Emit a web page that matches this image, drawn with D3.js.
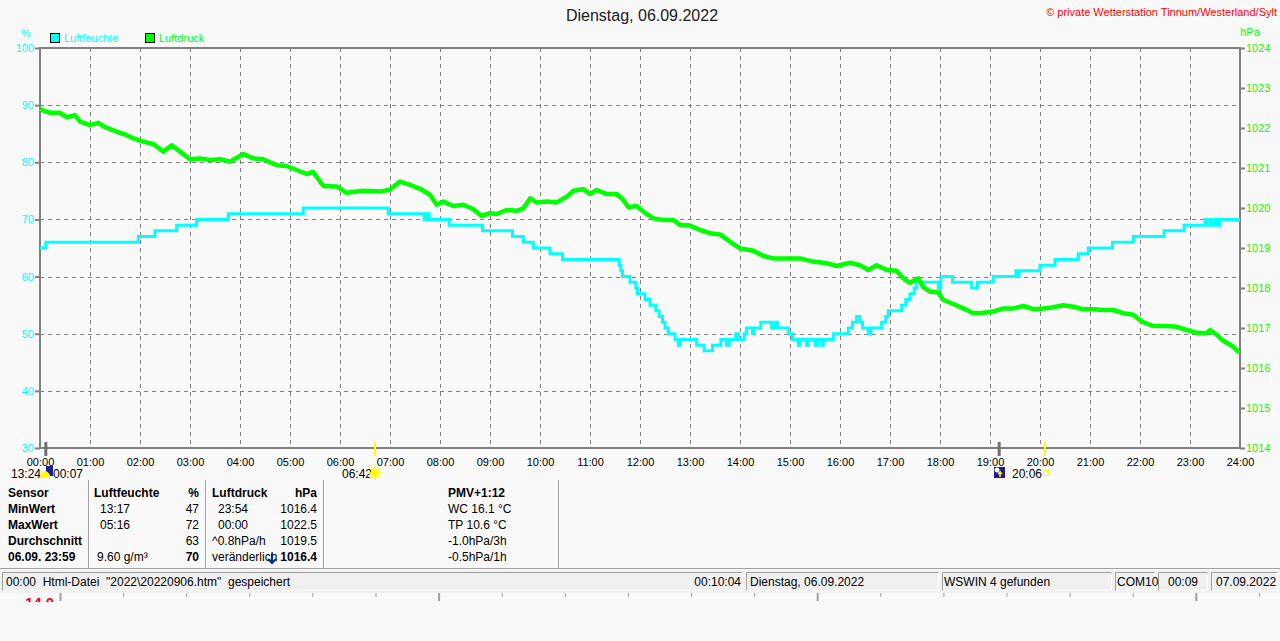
<!DOCTYPE html>
<html>
<head>
<meta charset="utf-8">
<script src="https://cdn.jsdelivr.net/npm/d3@7"></script>
<style>
  body { margin: 0; background: #f9f9f9; }
  svg { display: block; font-family: "Liberation Sans", Arial, sans-serif; }
</style>
</head>
<body>
<div id="chart"></div>
<script>
// Axis tick labels
const hourLabels = ["00:00","01:00","02:00","03:00","04:00","05:00","06:00","07:00","08:00","09:00","10:00","11:00","12:00",
  "13:00","14:00","15:00","16:00","17:00","18:00","19:00","20:00","21:00","22:00","23:00","24:00"];
const humidityTicks = [30, 40, 50, 60, 70, 80, 90, 100];
const pressureTicks = [1014, 1015, 1016, 1017, 1018, 1019, 1020, 1021, 1022, 1023, 1024];

// Luftfeuchte (%), step values
const humTimes = ["00:00","00:07","01:58","02:18","02:44","03:08","03:46","05:16","06:58","07:41","07:44","07:47","08:11","08:51",
  "09:27","09:40","09:52","10:12","10:27","11:35","11:37","11:39","11:48","11:55","11:57","12:06","12:12","12:19","12:23",
  "12:27","12:30","12:34","12:42","12:46","12:48","13:08","13:17","13:27","13:37","13:44","13:47","13:55","13:58","14:05",
  "14:08","14:15","14:17","14:25","14:38","14:42","14:45","14:58","15:03","15:10","15:12","15:20","15:22","15:30","15:33",
  "15:38","15:40","15:52","16:10","16:15","16:20","16:24","16:27","16:34","16:37","16:50","16:55","16:58","17:14","17:19",
  "17:24","17:29","17:32","17:58","18:01","18:15","18:38","18:45","19:04","19:31","19:33","19:35","20:00","20:18","20:46",
  "20:58","21:27","21:52","22:29","22:53","23:18","23:20","23:24","23:26","23:30","23:33","23:36","24:00"];
const humValues = [65,66,67,68,69,70,71,72,71,70,71,70,69,68,
  67,66,65,64,63,62,61,60,59,58,57,56,55,54,53,
  52,51,50,49,48,49,48,47,48,49,48,49,50,49,50,
  51,50,51,52,51,52,51,50,49,48,49,48,49,48,49,
  48,49,50,51,52,53,52,51,50,51,52,53,54,55,56,
  57,58,59,58,60,59,58,59,60,61,60,61,62,63,64,
  65,66,67,68,69,70,69,70,69,70,69,70,70];

// Luftdruck (hPa)
const presTimes = ["00:00","00:06","00:12","00:24","00:32","00:42","00:48","01:00","01:10","01:18","01:32","01:44","01:52",
  "02:04","02:16","02:28","02:38","02:48","03:00","03:12","03:24","03:36","03:48","04:04","04:16","04:28","04:44","04:56",
  "05:08","05:20","05:28","05:40","05:56","06:08","06:28","06:48","07:00","07:12","07:24","07:36","07:48","07:56","08:04",
  "08:16","08:28","08:40","08:50","09:00","09:08","09:20","09:32","09:40","09:48","09:56","10:08","10:20","10:32","10:40",
  "10:52","11:00","11:08","11:20","11:32","11:40","11:46","11:56","12:04","12:16","12:28","12:40","12:48","13:00","13:12",
  "13:24","13:36","13:48","14:00","14:16","14:28","14:40","14:56","15:12","15:28","15:44","15:56","16:12","16:24","16:34",
  "16:44","16:56","17:08","17:16","17:24","17:34","17:40","17:48","17:58","18:04","18:16","18:28","18:40","18:52","19:04",
  "19:16","19:28","19:40","19:52","20:04","20:16","20:28","20:40","20:52","21:04","21:16","21:28","21:40","21:52","22:02",
  "22:16","22:32","22:44","22:56","23:08","23:20","23:24","23:32","23:40","23:52","23:58","24:00"];
const presValues = [1022.47,1022.42,1022.38,1022.38,1022.27,1022.32,1022.16,1022.07,1022.13,1022.02,1021.91,1021.82,1021.74,
  1021.66,1021.60,1021.41,1021.57,1021.41,1021.22,1021.24,1021.20,1021.22,1021.16,1021.35,1021.24,1021.22,1021.07,1021.05,
  1020.95,1020.85,1020.90,1020.55,1020.54,1020.38,1020.43,1020.41,1020.46,1020.66,1020.58,1020.48,1020.33,1020.08,1020.16,
  1020.05,1020.08,1019.97,1019.80,1019.87,1019.85,1019.95,1019.93,1019.99,1020.24,1020.14,1020.16,1020.14,1020.28,1020.43,
  1020.47,1020.35,1020.45,1020.35,1020.35,1020.20,1020.02,1020.05,1019.91,1019.74,1019.70,1019.70,1019.58,1019.56,1019.45,
  1019.37,1019.34,1019.16,1018.99,1018.93,1018.80,1018.74,1018.74,1018.74,1018.66,1018.62,1018.55,1018.63,1018.57,1018.45,
  1018.57,1018.45,1018.43,1018.24,1018.13,1018.24,1018.02,1017.91,1017.89,1017.70,1017.60,1017.49,1017.37,1017.38,1017.41,
  1017.49,1017.49,1017.55,1017.47,1017.49,1017.52,1017.57,1017.53,1017.47,1017.47,1017.45,1017.45,1017.37,1017.33,1017.16,
  1017.05,1017.05,1017.03,1016.95,1016.88,1016.87,1016.95,1016.83,1016.68,1016.53,1016.41,1016.40];

// Sonne / Mond markers
const markerTimes = ["00:07", "06:42", "19:11", "20:06"];
const markerKinds = ["moon", "sun", "moon", "sun"];

// Info table
const tableCol0 = ["Sensor", "MinWert", "MaxWert", "Durchschnitt", "06.09. 23:59"];
const humCol = ["Luftfeuchte", "13:17", "05:16", "", "9.60 g/m³"];
const humVal = ["%", "47", "72", "63", "70"];
const presCol = ["Luftdruck", "23:54", "00:00", "^0.8hPa/h", "veränderlich"];
const presVal = ["hPa", "1016.4", "1022.5", "1019.5", "1016.4"];
const pmvCol = ["PMV+1:12", "WC 16.1 °C", "TP 10.6 °C", "-1.0hPa/3h", "-0.5hPa/1h"];

// Status bar
const statusTexts = ["00:00  Html-Datei  \"2022\\20220906.htm\"  gespeichert", "00:10:04", "Dienstag, 06.09.2022",
  "WSWIN 4 gefunden", "COM10", "00:09", "07.09.2022"];

const toHours = s => { const [h, m] = s.split(":").map(Number); return h + m / 60; };

const W = 1280, H = 641;
const plot = { left: 40, right: 1240, top: 48, bottom: 448 };
const cyan = "#00ffff", green = "#00ff00", gridGray = "#808080";

const svg = d3.select("#chart").append("svg")
  .attr("width", W).attr("height", H);

svg.append("rect").attr("width", W).attr("height", H).attr("fill", "#f9f9f9");

const x = d3.scaleLinear().domain([0, 24]).range([plot.left, plot.right]);
const yH = d3.scaleLinear().domain([30, 100]).range([plot.bottom, plot.top]);
const yP = d3.scaleLinear().domain([1014, 1024]).range([plot.bottom, plot.top]);

// Title and copyright
svg.append("text")
  .attr("x", 642).attr("y", 21)
  .attr("text-anchor", "middle")
  .style("font-size", "16px").attr("fill", "#202020")
  .text("Dienstag, 06.09.2022");

svg.append("text")
  .attr("x", 1277).attr("y", 16)
  .attr("text-anchor", "end")
  .style("font-size", "11px").attr("fill", "#ff0000")
  .text("© private Wetterstation Tinnum/Westerland/Sylt");

// Unit labels
svg.append("text").attr("x", 26).attr("y", 37).attr("text-anchor", "middle")
  .style("font-size", "11px").attr("fill", cyan).text("%");
svg.append("text").attr("x", 1250).attr("y", 36).attr("text-anchor", "middle")
  .style("font-size", "11px").attr("fill", green).text("hPa");

// Legend
const legendItems = [
  { label: "Luftfeuchte", color: cyan, x: 50 },
  { label: "Luftdruck", color: green, x: 145 }
];
legendItems.forEach(d => {
  svg.append("rect").attr("x", d.x + 0.5).attr("y", 33.5).attr("width", 9).attr("height", 9)
    .attr("fill", d.color).attr("stroke", "#000");
  svg.append("text").attr("x", d.x + 14).attr("y", 42)
    .style("font-size", "11px").attr("fill", d.color).text(d.label);
});

// Grid
const grid = svg.append("g")
  .attr("stroke", gridGray).attr("stroke-width", 1).attr("stroke-dasharray", "4,4");
grid.selectAll("line.v")
  .data(d3.range(1, 24))
  .join("line")
  .attr("x1", d => Math.round(x(d)) + 0.5).attr("x2", d => Math.round(x(d)) + 0.5)
  .attr("y1", plot.top).attr("y2", plot.bottom);
grid.selectAll("line.h")
  .data(humidityTicks.slice(1, -1))
  .join("line")
  .attr("x1", plot.left).attr("x2", plot.right)
  .attr("y1", d => Math.round(yH(d)) + 0.5).attr("y2", d => Math.round(yH(d)) + 0.5);

// Axes
const leftAxis = svg.append("g")
  .attr("transform", `translate(${plot.left},0)`)
  .call(d3.axisLeft(yH).tickValues(humidityTicks).tickSize(5).tickPadding(1));
leftAxis.select(".domain").remove();
leftAxis.selectAll("line").attr("stroke", gridGray).attr("stroke-width", 2);
leftAxis.selectAll("text").attr("fill", cyan).style("font-size", "11px")
  .style("font-family", "Liberation Sans, Arial, sans-serif");

const rightAxis = svg.append("g")
  .attr("transform", `translate(${plot.right},0)`)
  .call(d3.axisRight(yP).tickValues(pressureTicks).tickFormat(d3.format("d")).tickSize(5).tickPadding(1));
rightAxis.select(".domain").remove();
rightAxis.selectAll("line").attr("stroke", gridGray).attr("stroke-width", 2);
rightAxis.selectAll("text").attr("fill", green).style("font-size", "11px")
  .style("font-family", "Liberation Sans, Arial, sans-serif");

const bottomAxis = svg.append("g")
  .attr("transform", `translate(0,${plot.bottom})`)
  .call(d3.axisBottom(x).tickValues(d3.range(0, 25)).tickFormat(i => hourLabels[i]).tickSize(0).tickPadding(10));
bottomAxis.select(".domain").remove();
bottomAxis.selectAll("text").attr("fill", "#000").style("font-size", "11px")
  .style("font-family", "Liberation Sans, Arial, sans-serif");

// Frame
svg.append("rect")
  .attr("x", plot.left).attr("y", plot.top)
  .attr("width", plot.right - plot.left).attr("height", plot.bottom - plot.top)
  .attr("fill", "none").attr("stroke", gridGray).attr("stroke-width", 2);

// Data lines
const humData = humTimes.map((t, i) => ({ t: toHours(t), v: humValues[i] }));
const presData = presTimes.map((t, i) => ({ t: toHours(t), v: presValues[i] }));

svg.append("path")
  .datum(humData)
  .attr("fill", "none").attr("stroke", cyan).attr("stroke-width", 3)
  .attr("d", d3.line().x(d => x(d.t)).y(d => yH(d.v)).curve(d3.curveStepAfter));

svg.append("path")
  .datum(presData)
  .attr("fill", "none").attr("stroke", green).attr("stroke-width", 4.5)
  .attr("stroke-linejoin", "round")
  .attr("d", d3.line().x(d => x(d.t)).y(d => yP(d.v)));

// Sun / moon markers below the axis
markerTimes.forEach((t, i) => {
  svg.append("line")
    .attr("x1", x(toHours(t))).attr("x2", x(toHours(t)))
    .attr("y1", 442).attr("y2", 456)
    .attr("stroke", markerKinds[i] === "sun" ? "#ffff00" : "#707070")
    .attr("stroke-width", markerKinds[i] === "sun" ? 2 : 3);
});

const infoText = (tx, ty, s, anchor = "start") => svg.append("text")
  .attr("x", tx).attr("y", ty).attr("text-anchor", anchor)
  .style("font-size", "12px").style("white-space", "pre").attr("fill", "#000").text(s);

infoText(11, 478, "13:24");
infoText(53, 478, "00:07");
infoText(342, 478, "06:42");
infoText(1012, 478, "20:06");

// moon icon (left)
svg.append("rect").attr("x", 46).attr("y", 466).attr("width", 7).attr("height", 10).attr("fill", "#1c1c8c");
svg.append("path").attr("d", "M40,478 L40,475 Q45,467 50,475 L50,478 Z").attr("fill", "#ffff00");
// sun icon
const sunG = svg.append("g").attr("transform", "translate(375,473)");
sunG.selectAll("line").data(d3.range(8)).join("line")
  .attr("x1", 0).attr("y1", 0)
  .attr("x2", d => 7 * Math.cos(d * Math.PI / 4)).attr("y2", d => 7 * Math.sin(d * Math.PI / 4))
  .attr("stroke", "#ffff00").attr("stroke-width", 1.5);
sunG.append("circle").attr("r", 4).attr("fill", "#ffff00");
// moon icon (right)
svg.append("rect").attr("x", 994).attr("y", 467).attr("width", 11).attr("height", 11).attr("fill", "#1c1c8c");
svg.append("circle").attr("cx", 997).attr("cy", 470).attr("r", 2.5).attr("fill", "#ffffff");
svg.append("path").attr("d", "M1000,477 L1000,472 L998,474 M1000,472 L1002,474").attr("stroke", "#ffff00").attr("stroke-width", 1.5).attr("fill", "none");
svg.append("rect").attr("x", 1043.5).attr("y", 470.5).attr("width", 5).attr("height", 5)
  .attr("fill", "none").attr("stroke", "#ffff00");

// Info table
const rowsY = [497, 513, 529, 545, 561];
const sepX = [88, 205, 323, 558];
sepX.forEach(sx => {
  svg.append("line").attr("x1", sx + 0.5).attr("x2", sx + 0.5).attr("y1", 480).attr("y2", 568)
    .attr("stroke", "#a0a0a0");
  svg.append("line").attr("x1", sx + 1.5).attr("x2", sx + 1.5).attr("y1", 480).attr("y2", 568)
    .attr("stroke", "#ffffff");
});

tableCol0.forEach((s, i) => infoText(8, rowsY[i], s).style("font-weight", "bold"));
humCol.forEach((s, i) => infoText(i === 0 ? 94 : (i === 4 ? 97 : 100), rowsY[i], s).style("font-weight", i === 0 ? "bold" : "normal"));
humVal.forEach((s, i) => infoText(199, rowsY[i], s, "end").style("font-weight", (i === 0 || i === 4) ? "bold" : "normal"));
presCol.forEach((s, i) => infoText((i === 1 || i === 2) ? 218 : 212, rowsY[i], s).style("font-weight", i === 0 ? "bold" : "normal"));
presVal.forEach((s, i) => infoText(317, rowsY[i], s, "end").style("font-weight", (i === 0 || i === 4) ? "bold" : "normal"));
pmvCol.forEach((s, i) => infoText(448, rowsY[i], s).style("font-weight", i === 0 ? "bold" : "normal"));
// tendency arrow
svg.append("path").attr("d", "M272,553 L272,563 M268,559 L272,563 L276,559")
  .attr("stroke", "#003080").attr("stroke-width", 2).attr("fill", "none");

// Status bar
svg.append("rect").attr("x", 0).attr("y", 569).attr("width", W).attr("height", 24).attr("fill", "#f0f0f0");
svg.append("line").attr("x1", 0).attr("x2", W).attr("y1", 568.5).attr("y2", 568.5).attr("stroke", "#a0a0a0");
svg.append("line").attr("x1", 0).attr("x2", W).attr("y1", 569.5).attr("y2", 569.5).attr("stroke", "#ffffff");
const panels = [[2, 743], [746, 939], [942, 1112], [1115, 1155], [1158, 1208], [1211, 1278]];
panels.forEach(([a, b]) => {
  svg.append("path").attr("d", `M${a + 0.5},591 L${a + 0.5},572.5 L${b - 0.5},572.5`)
    .attr("stroke", "#a0a0a0").attr("fill", "none");
  svg.append("path").attr("d", `M${b - 0.5},572.5 L${b - 0.5},590.5 L${a + 0.5},590.5`)
    .attr("stroke", "#ffffff").attr("fill", "none");
});
infoText(6, 586, statusTexts[0]);
infoText(741, 586, statusTexts[1], "end");
infoText(750, 586, statusTexts[2]);
infoText(944, 586, statusTexts[3]);
infoText(1117, 586, statusTexts[4]);
infoText(1183, 586, statusTexts[5], "middle");
infoText(1216, 586, statusTexts[6]);

// remnant of a second chart below the status bar
svg.append("clipPath").attr("id", "below").append("rect")
  .attr("x", 0).attr("y", 596).attr("width", W).attr("height", 6);
svg.append("text").attr("x", 20).attr("y", 608).attr("clip-path", "url(#below)")
  .style("font-size", "15px").style("font-weight", "bold").attr("fill", "#ff0000").text("-14.0");
const remnantTicks = d3.range(0, 20);
svg.selectAll("line.rt").data(remnantTicks).join("line")
  .attr("x1", d => 60.5 + d * 63.1).attr("x2", d => 60.5 + d * 63.1)
  .attr("y1", 593).attr("y2", d => d % 6 === 0 ? 601 : 597)
  .attr("stroke", "#a0a0a0").attr("stroke-width", d => d % 6 === 0 ? 2 : 1);
</script>
</body>
</html>
